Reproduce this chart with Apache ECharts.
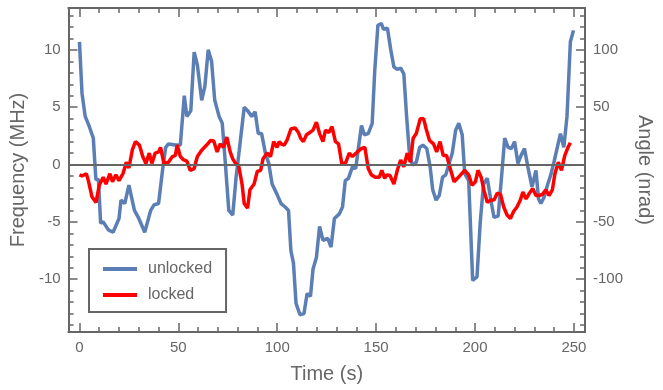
<!DOCTYPE html>
<html>
<head>
<meta charset="utf-8">
<script src="https://cdn.jsdelivr.net/npm/echarts@6/dist/echarts.min.js"></script>
<style>
html,body{margin:0;padding:0;background:#fff;}
#chart{width:663px;height:390px;}
</style>
</head>
<body>
<div id="chart"></div>
<script>
//unlocked (blue) - time (s) and frequency (MHz)
var unlockedTime=[0,1.3,2.9,5,7,8.3,9.6,10.7,12,14.6,17,20,21,22.9,25,25.8,27.8,30,31,33,36,37.8,40,42,43.6,45,48.5,51,53,54.3,56.3,58,59.6,61.8,63.4,65.1,66.8,68.4,70.6,72.2,73.9,75.5,77.5,79.2,80.8,83.3,85,87.1,88.8,90.4,92.1,94,95.7,97.4,99.9,101.9,104,105.7,106.9,108.2,109.5,111.5,113.5,115.1,116.8,118.1,119.8,121.4,123.1,125.6,127.2,128.9,131.4,133,134.4,136,138,139.7,141,142.6,144,146,148,149.3,150.9,152.6,153.7,155.7,157.4,159,160.7,162.4,164,165.4,166.7,168.3,170.3,172,173.6,175.6,177.3,178.6,180.3,181.9,183.6,185.2,186.9,188.5,190.2,191.8,193.5,194.8,196.8,198.8,201,202.6,204.3,206.2,207.9,209.6,211.7,213.4,215,216.7,218.4,220,221.7,223.3,225,226.7,228.8,230.8,232.1,233.3,235,236.6,238.3,239.9,241.6,243.2,244.9,246.5,248.2,249.8];
var unlockedFreq=[10.7,6.2,4.2,3.3,2.3,-1.3,-1.3,-5.1,-5.0,-5.7,-5.9,-4.7,-3.1,-3.4,-1.8,-1.9,-4.0,-4.7,-4.7,-5.9,-4.0,-3.5,-3.4,-0.5,1.5,1.8,1.7,1.7,6.0,4.2,4.7,9.8,8.7,5.6,6.8,10.0,9.0,5.6,4.2,3.6,-0.2,-4.0,-4.4,-1.1,1.25,5.0,4.7,4.2,4.6,2.7,2.7,1.0,0.1,-1.7,-2.6,-3.4,-3.7,-4.0,-7.5,-8.6,-12.1,-13.1,-13.0,-11.25,-11.5,-9.1,-8.1,-5.4,-6.6,-6.45,-7.2,-4.7,-4.3,-3.7,-1.4,-1.2,-0.2,-0.35,1.4,3.4,2.6,2.7,3.6,8.2,12.15,12.3,11.8,11.9,10.0,8.5,8.3,8.4,7.9,4.2,1.25,-0.05,0.2,1.5,1.7,1.4,-0.2,-2.2,-3.1,-2.7,-1.1,-0.9,0.1,1.0,3.0,3.6,2.6,-0.8,-1.4,-10.1,-9.8,-5.1,-1.7,-1.2,-3.0,-4.6,-4.5,-1.1,2.3,1.5,1.4,2.0,0.1,0.8,1.4,-0.2,-1.95,-0.5,-3.0,-3.4,-2.8,-1.8,-0.9,0.2,1.5,2.7,1.5,4.2,10.7,11.7];

//locked (red)
var lockedTime=[0,1.3,3.5,4.5,6.3,8.4,10,12,13.4,15.4,16.7,18.4,20,22,23.7,25,26.7,28.3,30.3,32,33.6,35.3,36.6,38.3,40,41,42.7,45,47,48.5,49.4,51,52.7,54.3,56,58,59.6,61.8,64.3,66.3,67.9,69.6,71.2,72.9,74.5,76.2,77.5,78.9,80.5,82.2,83.3,85,86.2,88.3,89.9,91.6,92.8,94.9,96.6,98.2,99.9,101,101.9,103.5,104.9,106.9,109,110.7,111.8,113.2,114.8,116.5,118.1,119.8,121.4,123.1,124.4,126.1,127.7,129.4,131,132.7,134.7,136.4,138,140.5,142.7,144.3,146,147.6,149.6,151.6,152.9,154.3,155.4,157,159,160.7,162.4,164,165.7,167.3,168.7,170.3,172.3,174,175.3,177,179,180.6,182.3,183.9,185.6,187.2,189.4,191.1,192.7,194.8,196.8,198.5,200.2,201.5,203.1,204.6,206.2,207.9,209.6,211.2,212.9,214.5,216.2,217.9,219.5,221.2,222.9,224.2,225.8,227.5,229.2,230.8,232.5,234.1,235.8,237.4,239.1,240.4,242.1,243.7,245.4,247,248.2];
var lockedFreq=[-0.9,-1.0,-0.8,-1.4,-2.8,-3.3,-1.8,-1.1,-1.7,-0.8,-1.5,-0.9,-1.4,-0.8,0.2,-0.3,1.25,2.0,1.7,0.7,0.1,1.0,0.1,1.0,1.1,1.5,0.1,0.2,0.7,0.8,1.7,0.7,0.4,0.3,-0.5,-0.35,0.7,1.25,1.7,2.1,2.05,1.1,1.8,1.5,2.4,1.1,0.5,0.1,-0.1,-1.7,-3.4,-3.8,-2.2,-1.7,-0.6,-0.5,0.5,1.0,0.7,2.0,1.5,2.0,1.8,1.7,2.1,3.1,3.2,2.8,2.3,2.0,2.6,2.8,3.0,3.7,2.7,2.0,3.0,2.8,3.3,2.0,1.8,0.0,0.2,1.0,0.7,1.1,1.4,1.5,-0.35,-0.9,-1.1,-1.1,-0.5,-1.2,-0.9,-0.95,-1.7,-0.5,0.4,-0.2,1.0,0.2,2.3,2.7,4.0,4.0,3.1,2.1,1.8,1.1,2.0,0.8,0.8,-0.2,-1.5,-1.2,-0.9,-0.5,-0.9,-1.8,-1.5,-0.5,-1.1,-2.3,-3.3,-3.1,-3.1,-2.5,-2.6,-3.7,-4.4,-4.7,-4.1,-3.7,-3.1,-2.4,-3.0,-2.5,-2.1,-2.7,-2.7,-2.6,-2.2,-2.7,-2.2,-0.8,0.2,-0.5,0.8,1.5,1.9];

//tick labels
var timeTicks=[0,50,100,150,200,250];
var freqTicks=[-10,-5,0,5,10];
var angleTicks=[-100,-50,50,100];

function zip(a,b){
	var out=[];
	for(var i=0;i<a.length;i++){out.push([a[i],b[i]]);}
	return out;
}
function range(a,b,step){
	var out=[];
	for(var v=a;v<=b;v+=step){out.push(v);}
	return out;
}

var gray='#666666';
var font='Liberation Sans';
var xMin=-5.5,xMax=255.6,yMin=-14.6,yMax=13.65;

function xAx(pos,major,showLabel,extra){
	var o={
		type:'value',position:pos,min:xMin,max:xMax,
		axisLine:{show:true,onZero:false,lineStyle:{color:gray,width:2}},
		axisTick:{inside:true,length:major?9:5,lineStyle:{color:gray,width:1.5},
			customValues:major?timeTicks:range(0,250,10)},
		axisLabel:{show:showLabel,customValues:timeTicks,color:gray,fontSize:15,fontFamily:font,margin:8},
		splitLine:{show:false}
	};
	return Object.assign(o,extra||{});
}
function yAx(pos,k,major,showLabel,labels,extra){
	var o={
		type:'value',position:pos,min:yMin*k,max:yMax*k,
		axisLine:{show:true,onZero:false,lineStyle:{color:gray,width:2}},
		axisTick:{inside:true,length:major?9:5,lineStyle:{color:gray,width:1.5},
			customValues:major?[-10*k,-5*k,0,5*k,10*k]:range(-14*k,13*k,k)},
		axisLabel:{show:showLabel,customValues:labels,color:gray,fontSize:15,fontFamily:font,margin:8},
		splitLine:{show:false}
	};
	return Object.assign(o,extra||{});
}

var chart=echarts.init(document.getElementById('chart'));
var options={
	animation:false,
	backgroundColor:'#ffffff',
	grid:{left:68,right:70,top:8,bottom:58},
	legend:{
		orient:'vertical',left:89,top:249,
		data:['unlocked','locked'],
		icon:'rect',
		padding:[12,14,9,14],itemGap:10,itemWidth:34,itemHeight:4,
		borderColor:gray,borderWidth:2,backgroundColor:'#fff',borderRadius:0,
		textStyle:{color:gray,fontSize:16,fontFamily:font,padding:[0,0,0,6]}
	},
	xAxis:[
		xAx('bottom',true,true,{name:'Time (s)',nameLocation:'middle',nameGap:32,
			nameTextStyle:{color:gray,fontSize:20,fontFamily:font}}),
		xAx('bottom',false,false),
		xAx('top',true,false),
		xAx('top',false,false)
	],
	yAxis:[
		yAx('left',1,true,true,freqTicks,{name:'Frequency (MHz)',nameLocation:'middle',nameGap:40,
			nameTextStyle:{color:gray,fontSize:20,fontFamily:font}}),
		yAx('left',1,false,false,freqTicks),
		yAx('right',10,true,true,angleTicks,{name:'Angle (nrad)',nameLocation:'middle',nameGap:50,nameRotate:-90,
			nameTextStyle:{color:gray,fontSize:20,fontFamily:font}}),
		yAx('right',10,false,false,angleTicks)
	],
	series:[
		{
			name:'unlocked',type:'line',
			data:zip(unlockedTime,unlockedFreq),
			symbol:'none',
			itemStyle:{color:'#5b7fb5'},
			lineStyle:{color:'#5b7fb5',width:3.5},
			markLine:{
				silent:true,symbol:['none','none'],
				label:{show:false},
				lineStyle:{color:gray,width:2,type:'solid'},
				data:[{yAxis:0}]
			}
		},
		{
			name:'locked',type:'line',
			data:zip(lockedTime,lockedFreq),
			symbol:'none',
			itemStyle:{color:'#ff0000'},
			lineStyle:{color:'#ff0000',width:3.5}
		}
	]
};
chart.setOption(options);
</script>
</body>
</html>
